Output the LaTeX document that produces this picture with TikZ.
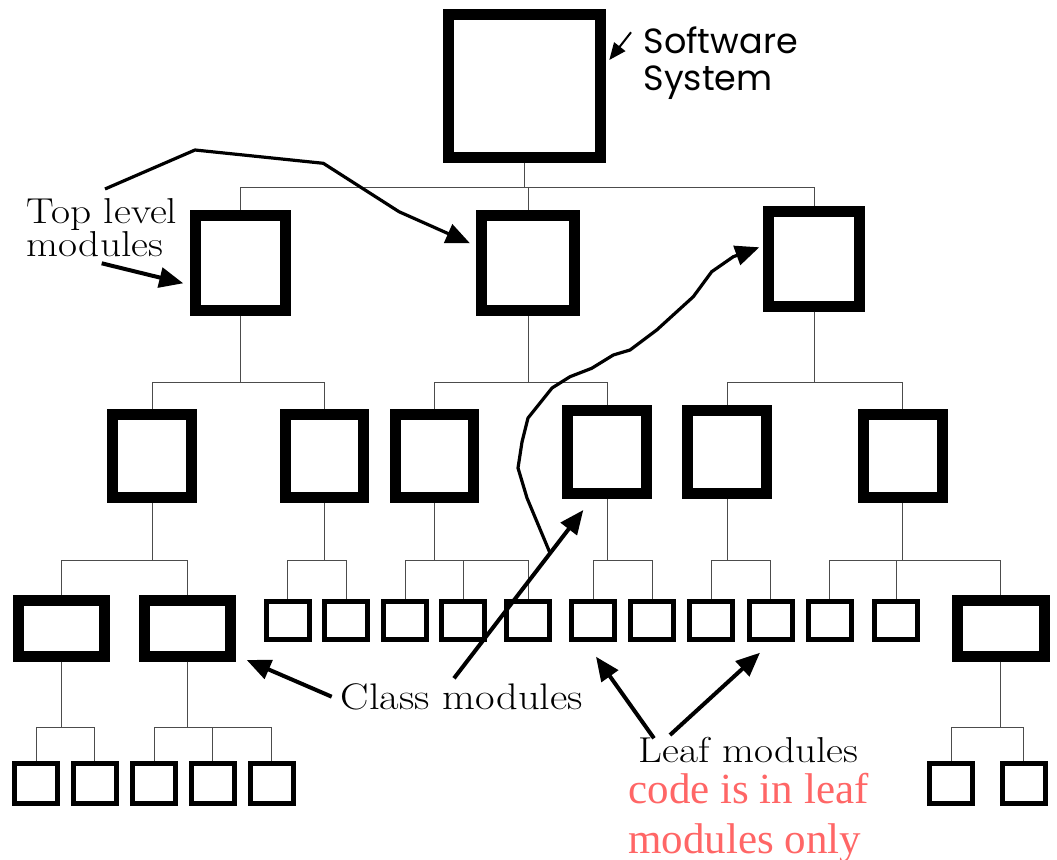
\documentclass[tikz,border=0pt]{standalone}
\usepackage{fontspec}
\newfontfamily\sysfont{Poppins}
\newfontfamily\redfont{Liberation Serif}
\usetikzlibrary{arrows.meta}
\definecolor{redtxt}{HTML}{FF6666}
\newcommand{\widetxt}[1]{\scalebox{1.15}[1]{#1}}
\begin{document}
\begin{tikzpicture}[x=1pt,y=-1pt,
  tree/.style={draw=black!70, line width=1pt},
  big/.style={draw, rectangle, line width=11pt, outer sep=5.5pt, inner sep=0pt},
  leaf/.style={draw, rectangle, line width=5pt, outer sep=2.5pt, inner sep=0pt, minimum width=43pt, minimum height=38pt},
  ann/.style={line width=4pt, line join=round, -{Triangle[length=24pt,width=20pt]}},
  lbl/.style={anchor=base west, inner sep=0pt, align=left},
]
\useasboundingbox (0,0) rectangle (1057,859);
% level 0 and 1
\node[big, minimum width=151.5pt, minimum height=142.5pt] (top) at (524.7,86) {};
\node[big, minimum width=89.5pt, minimum height=95pt] (ta) at (240.3,263) {};
\node[big, minimum width=92.5pt, minimum height=95pt] (tb) at (528,263) {};
\node[big, minimum width=90.5pt, minimum height=94.5pt] (tc) at (814,258.8) {};
% level 2
\foreach \n/\x/\y in {ma/152/455.8, mb/324.5/455.8, mc/434.5/455.8, md/607/452, me/727/452, mf/902.8/455.8}
  \node[big, minimum width=78.5pt, minimum height=83.5pt] (\n) at (\x,\y) {};
% level 3
\node[big, minimum width=85.5pt, minimum height=55.5pt] (ca) at (61.7,628.3) {};
\node[big, minimum width=85.5pt, minimum height=55.5pt] (cb) at (187.5,628.3) {};
\node[big, minimum width=87.5pt, minimum height=55.5pt] (cr) at (1000.8,628.3) {};
\foreach \n/\x in {l1/287.5, l2/346, l3/405, l4/463.3, l5/528, l6/593.3, l7/652, l8/711.3, l9/770.5, l10/829.5, l11/896.3}
  \node[leaf] (\n) at (\x,620.8) {};
% level 4
\foreach \n/\x in {b1/36.3, b2/94.8, b3/154, b4/212.5, b5/271.7, b6/951.3, b7/1023.5}
  \node[leaf, minimum height=40pt] (\n) at (\x,783.3) {};
% bar levels
\coordinate (y1) at (0,187.3);
\coordinate (y2) at (0,382);
\coordinate (y3) at (0,560.7);
\coordinate (y4) at (0,727.7);
\foreach \p/\c/\y in {top/ta/y1, top/tb/y1, top/tc/y1,
  ta/ma/y2, ta/mb/y2, tb/mc/y2, tb/md/y2, tc/me/y2, tc/mf/y2,
  ma/ca/y3, ma/cb/y3, mb/l1/y3, mb/l2/y3, mc/l3/y3, mc/l4/y3, mc/l5/y3,
  md/l6/y3, md/l7/y3, me/l8/y3, me/l9/y3, mf/l10/y3, mf/l11/y3, mf/cr/y3,
  ca/b1/y4, ca/b2/y4, cb/b3/y4, cb/b4/y4, cb/b5/y4, cr/b6/y4, cr/b7/y4}
  \draw[tree] (\p.south) |- (\c.north |- \y) -- (\c.north);
% labels (base anchor = baseline of the last line)
\node[lbl, font=\sysfont\fontsize{35}{37.4}\selectfont] (sw) at (643.3,90.7) {Software\\System};
\node[lbl, font=\fontsize{36}{33.4}\selectfont] (tl) at (26.7,256.7) {\widetxt{Top level}\\\widetxt{modules}};
\node[lbl, font=\fontsize{37}{40}\selectfont] (cm) at (340.7,709) {\widetxt{Class modules}};
\node[lbl, font=\fontsize{36}{40}\selectfont] (lm) at (638.3,762.3) {\widetxt{Leaf modules}};
\node[lbl, font=\redfont\fontsize{43}{50}\selectfont, text=redtxt] (code) at (628.3,853.3) {code is in leaf\\modules only};
% annotation arrows
\coordinate (swS) at (631,32.3);
\coordinate (swT) at (609.3,60);
\draw[line width=2pt, -{Triangle[length=17pt,width=14pt]}] (swS) -- (swT);
\coordinate (tlS) at (105,189);
\coordinate (tlT) at (470,243.3);
\draw[ann, line width=3.2pt] (tlS) -- (195,150) -- (323.3,163.3) -- (399,211.7) -- (tlT);
\coordinate (moS) at (101.7,263.3);
\coordinate (moT) at (183.3,283.3);
\draw[ann] (moS) -- (moT);
\coordinate (cmS) at (454,678.3);
\coordinate (cmT) at (583.3,510);
\draw[ann] (cmS) -- (cmT);
\coordinate (cuS) at (550,553);
\coordinate (cuT) at (759.3,247.3);
\draw[ann, line width=3.2pt] (cuS) -- (527,498) -- (518,468) -- (522,442) -- (528,418) -- (552,388) -- (570,376.7) -- (591.7,368.3) -- (613.3,355) -- (630,350) -- (656.7,330) -- (693.3,296.7) -- (711.7,271.7) -- (733.3,256.7) -- (cuT);
\coordinate (clS) at (331.7,696.7);
\coordinate (clT) at (246.7,660);
\draw[ann] (clS) -- (clT);
\coordinate (l1S) at (654,738.3);
\coordinate (l1T) at (596,656.7);
\draw[ann] (l1S) -- (l1T);
\coordinate (l2S) at (670,735);
\coordinate (l2T) at (760,652.7);
\draw[ann] (l2S) -- (l2T);
\end{tikzpicture}
\end{document}
